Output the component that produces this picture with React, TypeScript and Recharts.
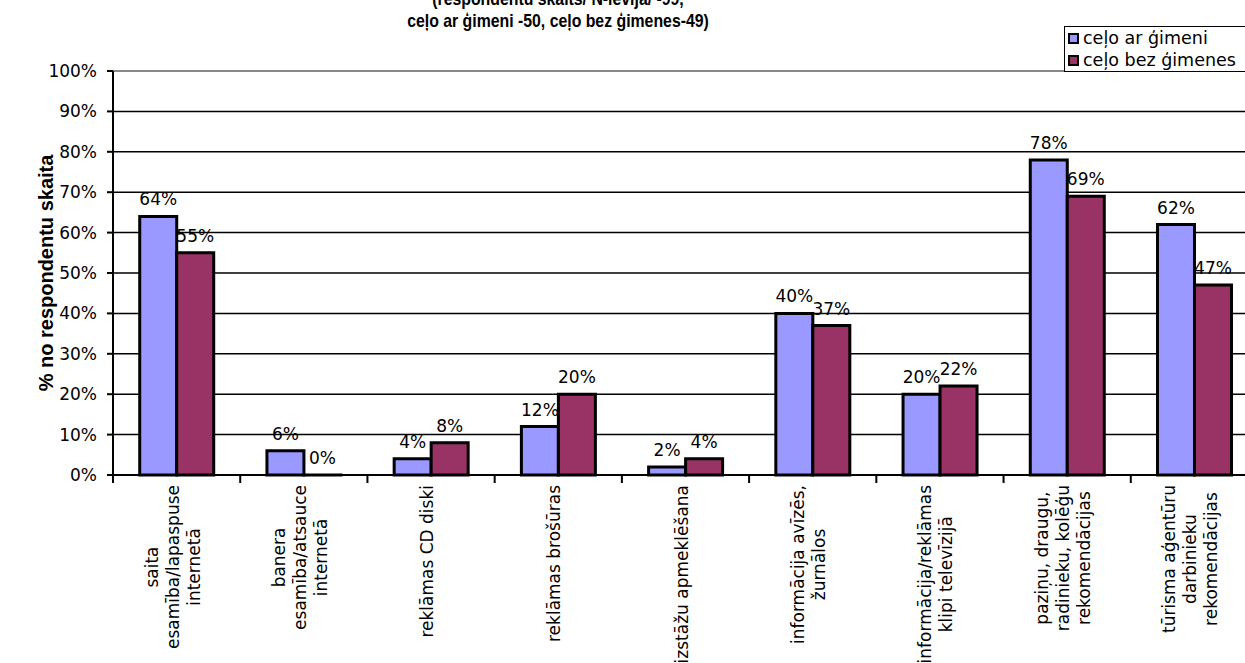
import React from 'react';
import {
  BarChart,
  Bar,
  XAxis,
  YAxis,
  CartesianGrid,
  Legend,
  LabelList,
  ReferenceLine,
} from 'recharts';

const categories = [
  'saita\nesamība/lapaspuse\ninternetā',
  'banera\nesamība/atsauce\ninternetā',
  'reklāmas CD diski',
  'reklāmas brošūras',
  'izstāžu apmeklēšana',
  'informācija avīzēs,\nžurnālos',
  'informācija/reklāmas\nklipi televīzijā',
  'paziņu, draugu,\nradinieku, kolēģu\nrekomendācijas',
  'tūrisma aģentūru\ndarbinieku\nrekomendācijas',
];
const withFamily = [64, 6, 4, 12, 2, 40, 20, 78, 62];
const withoutFamily = [55, 0, 8, 20, 4, 37, 22, 69, 47];
const seriesNames = ['ceļo ar ģimeni', 'ceļo bez ģimenes'];
const yTicks = [0, 10, 20, 30, 40, 50, 60, 70, 80, 90, 100];
const titleLines = [
  '(respondentu skaits/ N-ievija/ -99,',
  'ceļo ar ģimeni -50, ceļo bez ģimenes-49)',
];
const yAxisTitle = '% no respondentu skaita';

const data = categories.map((name, i) => ({
  name,
  withFamily: withFamily[i],
  withoutFamily: withoutFamily[i],
}));

const CHART_W = 1270;
const CHART_H = 663;
const Y_AXIS_W = 113;
const MARGIN_RIGHT = 12;
const BAND = (CHART_W - Y_AXIS_W - MARGIN_RIGHT) / categories.length;
const FONT = '"DejaVu Sans", Verdana, sans-serif';
const BOLD_FONT = '"Liberation Sans", Arial, sans-serif';
const LABEL_SIZE = 17;
const LINE_H = 21;

let ctx: CanvasRenderingContext2D | null = null;
function textWidth(s: string) {
  if (!ctx) ctx = document.createElement('canvas').getContext('2d');
  if (!ctx) return s.length * 9.5;
  ctx.font = `${LABEL_SIZE}px "DejaVu Sans"`;
  return ctx.measureText(s).width;
}

function CategoryTick(props: any) {
  const { x, y, payload, index } = props;
  const lines = String(payload.value).split('\n');
  const maxW = Math.max(...lines.map(textWidth));
  const cy = y + 10 + maxW / 2;
  const left = x - BAND / 2;
  return (
    <g>
      <line x1={left} y1={y} x2={left} y2={y + 8} stroke="#000" strokeWidth={2} />
      {index === categories.length - 1 && (
        <line x1={left + BAND} y1={y} x2={left + BAND} y2={y + 8} stroke="#000" strokeWidth={2} />
      )}
      {lines.map((line, i) => (
        <text
          key={i}
          transform={`translate(${x + 2 + (i - (lines.length - 1) / 2) * LINE_H}, ${cy}) rotate(-90)`}
          textAnchor="middle"
          fontFamily={FONT}
          fontSize={LABEL_SIZE}
          fill="#000"
        >
          {line}
        </text>
      ))}
    </g>
  );
}

function ValueLabel(props: any) {
  const { x, y, width, value } = props;
  return (
    <text
      x={x + width / 2}
      y={y - 11}
      textAnchor="middle"
      fontFamily={FONT}
      fontSize={LABEL_SIZE}
      fill="#000"
    >
      {value}%
    </text>
  );
}

function LegendBox(props: any) {
  const { payload = [] } = props;
  return (
    <div
      style={{
        border: '1px solid #000',
        background: '#fff',
        padding: '0 20px 0 3px',
        fontFamily: FONT,
        fontSize: 17.5,
        lineHeight: '22px',
        whiteSpace: 'nowrap',
        color: '#000',
      }}
    >
      {payload.map((p: any) => (
        <div key={p.value} style={{ display: 'flex', alignItems: 'center' }}>
          <span
            style={{
              display: 'inline-block',
              width: 7,
              height: 7,
              background: p.color,
              border: '2px solid #000',
              marginRight: 4,
            }}
          />
          {p.value}
        </div>
      ))}
    </div>
  );
}

// a zero-height bar still needs a rectangle so its "0%" label is drawn
const keepZero = (value: any) => (Number(value) === 0 ? 0.01 : 0);

export default function App() {
  return (
    <div
      style={{
        position: 'absolute',
        left: 0,
        top: 0,
        width: 1245,
        height: CHART_H,
        overflow: 'hidden',
        background: '#fff',
      }}
    >
      <BarChart
        width={CHART_W}
        height={CHART_H}
        data={data}
        margin={{ top: 71, right: MARGIN_RIGHT, bottom: 0, left: 0 }}
        barCategoryGap="21%"
        barGap={0}
      >
        <CartesianGrid vertical={false} stroke="#000" strokeWidth={1.5} />
        <ReferenceLine y={100} stroke="#888" strokeWidth={2} />
        <XAxis
          dataKey="name"
          height={188}
          interval={0}
          tickLine={false}
          tickSize={0}
          tickMargin={0}
          axisLine={{ stroke: '#000', strokeWidth: 2 }}
          tick={<CategoryTick />}
        />
        <YAxis
          width={Y_AXIS_W}
          domain={[0, 100]}
          ticks={yTicks}
          interval={0}
          tickFormatter={(v) => `${v}%`}
          tickSize={6}
          tickMargin={10}
          axisLine={{ stroke: '#000', strokeWidth: 2 }}
          tickLine={{ stroke: '#000', strokeWidth: 2 }}
          tick={{ fill: '#000', fontFamily: FONT, fontSize: LABEL_SIZE }}
          label={{
            value: yAxisTitle,
            angle: -90,
            position: 'insideLeft',
            dx: 41,
            style: {
              textAnchor: 'middle',
              fontFamily: BOLD_FONT,
              fontWeight: 'bold',
              fontSize: 20,
              fill: '#000',
            },
          }}
        />
        <Legend
          layout="vertical"
          align="center"
          verticalAlign="middle"
          wrapperStyle={{ left: 1064, top: 26, width: 'auto' }}
          content={<LegendBox />}
        />
        <Bar
          dataKey="withFamily"
          name={seriesNames[0]}
          fill="#9999FF"
          stroke="#000"
          strokeWidth={3}
          minPointSize={keepZero}
          isAnimationActive={false}
        >
          <LabelList dataKey="withFamily" content={<ValueLabel />} />
        </Bar>
        <Bar
          dataKey="withoutFamily"
          name={seriesNames[1]}
          fill="#993366"
          stroke="#000"
          strokeWidth={3}
          minPointSize={keepZero}
          isAnimationActive={false}
        >
          <LabelList dataKey="withoutFamily" content={<ValueLabel />} />
        </Bar>
      </BarChart>
      <svg
        width={1245}
        height={40}
        style={{ position: 'absolute', left: 0, top: 0, pointerEvents: 'none' }}
      >
        {titleLines.map((line, i) => (
          <text
            key={i}
            transform={`translate(558, ${5 + i * 22}) scale(0.88, 1)`}
            textAnchor="middle"
            fontFamily={BOLD_FONT}
            fontWeight="bold"
            fontSize={18}
            fill="#000"
          >
            {line}
          </text>
        ))}
      </svg>
    </div>
  );
}
